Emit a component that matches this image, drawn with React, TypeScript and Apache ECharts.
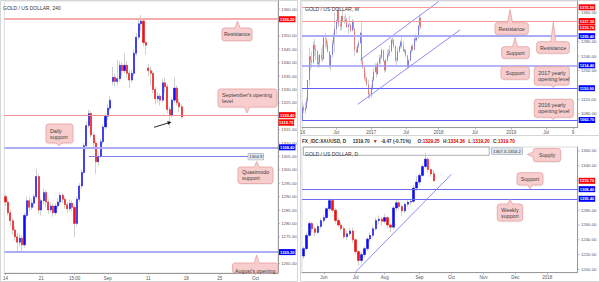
import React, { useEffect, useRef } from 'react';
import * as echarts from 'echarts';

const FONT = '"Liberation Sans", Arial, Helvetica, sans-serif';

// ---------- Left panel: GOLD / US DOLLAR, 240  ([open, close, low, high]) ----------
const h4Candles: number[][] = [
  [1290, 1288, 1286.5, 1291], [1288, 1284, 1283, 1289], [1284, 1281, 1279, 1285],
  [1281, 1277.5, 1276, 1282], [1277.5, 1275, 1273.5, 1279], [1275, 1273, 1269, 1276.5],
  [1273, 1274.5, 1271.5, 1276], [1274.5, 1272, 1269.5, 1275.5], [1272, 1283, 1271, 1284],
  [1283, 1288.5, 1282, 1290], [1288.5, 1286, 1284.5, 1290], [1286, 1287.5, 1285, 1289],
  [1287.5, 1290, 1286, 1291], [1290, 1297.5, 1289, 1300.5], [1297.5, 1285, 1283.5, 1298.5],
  [1285, 1288.5, 1283, 1289.5], [1288.5, 1291.5, 1287, 1293], [1291.5, 1288, 1286, 1292.5],
  [1288, 1285, 1283.5, 1289], [1285, 1286.5, 1284, 1288], [1286.5, 1284, 1282.5, 1287.5],
  [1284, 1286.5, 1283, 1287.5], [1286.5, 1288, 1285.5, 1289.5], [1288, 1290.5, 1287, 1291.5],
  [1290.5, 1289, 1287.5, 1291.5], [1289, 1287, 1285.5, 1290], [1287, 1285.5, 1284, 1288],
  [1285.5, 1287.5, 1284.5, 1289], [1287.5, 1286, 1284.5, 1288.5], [1286, 1280, 1275, 1287],
  [1280, 1289, 1279, 1290], [1289, 1294, 1288, 1295], [1294, 1299, 1293, 1300],
  [1299, 1309, 1298.5, 1310], [1309, 1316.5, 1308, 1318], [1316.5, 1321, 1315.5, 1322.5],
  [1321, 1313, 1312, 1322], [1313, 1310, 1307.5, 1314], [1310, 1303, 1298.5, 1311],
  [1303, 1305, 1301.5, 1306.5], [1305, 1310.5, 1304.5, 1311.5], [1310.5, 1316, 1309.5, 1317],
  [1316, 1320, 1315, 1321], [1320, 1323, 1318.5, 1324.5], [1323, 1326, 1322, 1327.5],
  [1333, 1334.5, 1331.5, 1338.5], [1334.5, 1333, 1331, 1336], [1333, 1334, 1331.5, 1341],
  [1334, 1339, 1333, 1340.5], [1339, 1337, 1335, 1340], [1337, 1339, 1336, 1343.5],
  [1339, 1336, 1334.5, 1340.5], [1336, 1333.5, 1330.5, 1337], [1333.5, 1336, 1332.5, 1337.5],
  [1336, 1343.5, 1335, 1345], [1343.5, 1349.5, 1342.5, 1351], [1349.5, 1354.5, 1348.5, 1356],
  [1354.5, 1355.5, 1352, 1357.8], [1355.5, 1347.5, 1346, 1356.5], [1347.5, 1346.5, 1343, 1348],
  [1338, 1337, 1335, 1339.5], [1337, 1336, 1331.5, 1338.5], [1336, 1330, 1328.5, 1337],
  [1330, 1326.5, 1324.5, 1331], [1326.5, 1327.5, 1325, 1329], [1327.5, 1326, 1324, 1328.5],
  [1326, 1332.5, 1325, 1334], [1332.5, 1331, 1329, 1334.5], [1331, 1322.5, 1321, 1332],
  [1322.5, 1320.5, 1315.5, 1323.5], [1320.5, 1326, 1319.5, 1327], [1326, 1330.5, 1325, 1334.5],
  [1330.5, 1325, 1324, 1331.5], [1325, 1323.5, 1321.5, 1326.5], [1323.5, 1319.7, 1319.2, 1324.5],
];
const h4SlotCount = 115;
const h4AxisLabels: [number, string][] = [[0, '14'], [15, '21'], [29, '15:00'], [43, 'Sep'], [60, '11'], [76, '18'], [90, '25'], [105, 'Oct']];
const h4PriceTicks = [1265, 1275, 1280, 1285, 1290, 1295, 1300, 1305, 1310, 1315, 1325, 1330, 1335, 1340, 1345, 1350, 1360];
const h4Range = [1261.5, 1363.0];
const h4Resistance = 1356.2;
const h4SeptemberOpen = 1320.4;
const h4DailySupport = 1308.4;
const h4AugustOpen = 1269.3;
const h4Quasimodo = { value: 1304.9, from: 35, to: 102 };

// ---------- Top right: GOLD / US DOLLAR, W ----------
const weeklyCandles: number[][] = [
  [1062.7, 1097.8, 1060, 1111], [1097.8, 1088.8, 1082, 1105], [1088.8, 1096.4, 1080, 1111], [1096.4, 1116.4, 1093, 1127],
  [1116.4, 1173.9, 1111, 1174], [1173.9, 1239.4, 1156, 1263], [1239.4, 1226.8, 1200, 1240], [1226.8, 1222.7, 1208, 1253],
  [1222.7, 1270.6, 1218, 1280], [1270.6, 1259.4, 1240, 1287], [1259.4, 1254.3, 1229, 1272], [1254.3, 1218.0, 1213, 1256],
  [1218.0, 1221.4, 1207, 1243], [1221.4, 1243.3, 1212, 1247], [1243.3, 1234.7, 1226, 1262], [1234.7, 1231.7, 1224, 1271],
  [1231.7, 1290.6, 1229, 1297], [1290.6, 1289.6, 1265, 1303.8], [1289.6, 1272.9, 1260, 1285], [1272.9, 1252.9, 1250, 1282],
  [1252.9, 1213.8, 1208, 1254], [1213.8, 1243.3, 1199.5, 1244], [1243.3, 1275.5, 1236, 1285], [1275.5, 1297.7, 1270, 1305],
  [1297.7, 1315.5, 1250, 1362], [1315.5, 1339.6, 1301, 1341], [1339.6, 1366.0, 1331, 1372], [1366.0, 1327.0, 1320, 1375.5],
  [1327.0, 1323.0, 1310, 1340], [1323.0, 1350.9, 1312, 1352], [1350.9, 1335.6, 1334, 1367], [1335.6, 1335.0, 1330, 1352],
  [1335.0, 1341.0, 1334, 1358], [1341.0, 1320.5, 1318, 1347], [1320.5, 1326.8, 1302, 1331], [1326.8, 1327.0, 1323, 1352],
  [1327.0, 1310.4, 1306, 1330], [1310.4, 1337.0, 1309, 1343], [1337.0, 1316.0, 1314, 1340], [1316.0, 1257.0, 1241, 1318],
  [1257.0, 1251.3, 1248, 1266], [1251.3, 1266.6, 1248, 1274], [1266.6, 1276.1, 1262, 1284], [1276.1, 1304.5, 1274, 1308],
  [1304.5, 1225.0, 1219, 1337], [1225.0, 1208.6, 1205, 1236], [1208.6, 1178.5, 1172, 1215], [1178.5, 1177.8, 1168, 1194],
  [1177.8, 1161.2, 1156, 1183], [1161.2, 1133.6, 1122, 1174], [1133.6, 1132.4, 1122, 1140], [1132.4, 1151.7, 1124, 1160],
  [1151.7, 1172.8, 1146, 1182], [1172.8, 1196.5, 1170, 1207], [1196.5, 1209.8, 1194, 1220], [1209.8, 1190.4, 1180, 1219],
  [1190.4, 1220.3, 1187, 1226], [1220.3, 1234.1, 1216, 1244], [1234.1, 1237.0, 1218, 1244], [1237.0, 1257.0, 1231, 1264],
  [1257.0, 1226.4, 1224, 1258], [1226.4, 1201.0, 1194, 1229], [1201.0, 1229.1, 1196, 1233], [1229.1, 1243.3, 1224, 1259],
  [1243.3, 1248.6, 1237, 1260], [1248.6, 1254.2, 1240, 1270], [1254.2, 1285.5, 1250, 1289], [1285.5, 1283.9, 1274, 1295],
  [1283.9, 1268.2, 1262, 1288], [1268.2, 1227.6, 1225, 1269], [1227.6, 1227.8, 1214, 1237], [1227.8, 1253.6, 1225, 1264],
  [1253.6, 1266.8, 1249, 1270], [1266.8, 1279.2, 1260, 1284], [1279.2, 1266.6, 1263, 1296], [1266.6, 1253.3, 1252, 1281],
  [1253.3, 1256.2, 1247, 1260], [1256.2, 1241.9, 1237, 1259], [1241.9, 1209.4, 1205, 1243], [1209.4, 1227.8, 1206, 1232],
  [1227.8, 1254.6, 1226, 1257], [1254.6, 1268.6, 1248, 1270], [1268.6, 1257.8, 1254, 1274], [1257.8, 1288.7, 1256, 1291],
  [1288.7, 1284.4, 1280, 1301], [1284.4, 1291.2, 1280, 1295], [1291.2, 1325.2, 1290, 1326], [1325.2, 1346.5, 1311, 1357.5],
  [1346.5, 1319.7, 1315, 1349],
];
const weeklySlotCount = 205;
const weeklyAxisLabels: [number, string][] = [[0, '16'], [25, 'Jul'], [51, '2017'], [77, 'Jul'], [101, '2018'], [128, 'Jul'], [155, '2019'], [181, 'Jul'], [201, '9']];
const weeklyPriceTicks = [1080, 1120, 1200, 1240, 1280, 1360];
const weeklyRange = [1041.3, 1393.0];
const weeklyUpperChannel = [[43, 1230.3], [101, 1391.5]];
const weeklyLowerChannel = [[41, 1106.2], [117, 1312.8]];

// ---------- Bottom right: GOLD / US DOLLAR, D ----------
const dailyCandles: number[][] = [
  [1218, 1228, 1214, 1231], [1228, 1246, 1226, 1250], [1246, 1262, 1244, 1265], [1262, 1255, 1250, 1264],
  [1255, 1250, 1245, 1258], [1250, 1258, 1248, 1262], [1258, 1266, 1255, 1269], [1266, 1270, 1263, 1274],
  [1270, 1282, 1268, 1284], [1282, 1293, 1279, 1296], [1293, 1280, 1277, 1295], [1280, 1266, 1262, 1283],
  [1266, 1260, 1257, 1270], [1260, 1255, 1252, 1264], [1255, 1244, 1241, 1258], [1244, 1248, 1240, 1252],
  [1248, 1252, 1245, 1256], [1252, 1240, 1236, 1256], [1240, 1224, 1220, 1242], [1224, 1212, 1205, 1226],
  [1212, 1220, 1208, 1224], [1220, 1228, 1216, 1231], [1228, 1241, 1225, 1244], [1241, 1246, 1237, 1250],
  [1246, 1255, 1243, 1259], [1255, 1266, 1252, 1270], [1266, 1268, 1261, 1273], [1268, 1265, 1259, 1271],
  [1265, 1270, 1262, 1275], [1270, 1260, 1256, 1272], [1260, 1257, 1250, 1263], [1257, 1283, 1254, 1286],
  [1283, 1290, 1279, 1294], [1290, 1285, 1281, 1293], [1285, 1279, 1272, 1288], [1279, 1288, 1276, 1291],
  [1288, 1291, 1284, 1294], [1291, 1292, 1286, 1296], [1292, 1310, 1290, 1314], [1310, 1318, 1306, 1326],
  [1318, 1327, 1313, 1330], [1327, 1339, 1325, 1342], [1339, 1349, 1336, 1357.5], [1349, 1335, 1331, 1351],
  [1335, 1329, 1325, 1336], [1329.25, 1319.7, 1319.2, 1334.36],
];
const dailySlotCount = 95;
const dailyAxisLabels: [number, string][] = [[7, 'Jun'], [18, 'Jul'], [28, 'Aug'], [40, 'Sep'], [51, 'Oct'], [62, 'Nov'], [73, 'Dec'], [84, '2018']];
const dailyPriceTicks = [1200, 1220, 1240, 1260, 1280, 1340, 1360];
const dailyRange = [1195.5, 1365.4];
const dailyTrendline = [[18, 1196.7], [51, 1328.5]];
const dailySupplyZone = { low: 1354.2, high: 1365.4, toSlot: 64, text: '1367.3-1354.2' };

const UP = '#0a0aff';
const DOWN = '#ff0a0a';
const WICK = '#bcbcbc';
const RED_LABEL = '#ff0000';
const BLUE_LABEL = '#0000ff';

const cats = (n: number) => Array.from({ length: n }, (_, i) => String(i));

function xAxisFor(gi: number, count: number, labels: [number, string][]) {
  const map = new Map<number, string>(labels);
  return {
    type: 'category', gridIndex: gi, data: cats(count), boundaryGap: true,
    axisLine: { show: true, lineStyle: { color: '#9a9a9a', width: 1 } },
    axisTick: { show: true, length: 2, alignWithLabel: true, interval: (i: number) => map.has(i), lineStyle: { color: '#9a9a9a', width: 0.6 } },
    axisLabel: { interval: (i: number) => map.has(i), formatter: (_v: string, i: number) => map.get(i) ?? '', fontSize: 4.5, color: '#555', margin: 2.5, fontFamily: FONT },
    splitLine: { show: false },
  };
}

function yAxisFor(gi: number, range: number[]) {
  return {
    type: 'value', gridIndex: gi, position: 'right', min: range[0], max: range[1],
    axisLine: { show: true, lineStyle: { color: '#9a9a9a', width: 1 } },
    axisTick: { show: false }, axisLabel: { show: false }, splitLine: { show: false },
  };
}

function tickSeries(gi: number, values: number[]) {
  return {
    type: 'custom', xAxisIndex: gi, yAxisIndex: gi, data: values.map((v) => [0, v]), clip: false, silent: true, z: 1,
    renderItem: (params: any, api: any) => {
      const v = api.value(1);
      const p = api.coord([0, v]);
      const cs = params.coordSys;
      const xr = cs.x + cs.width;
      return {
        type: 'group',
        children: [
          { type: 'line', shape: { x1: xr, y1: p[1], x2: xr + 2, y2: p[1] }, style: { stroke: '#9a9a9a', lineWidth: 0.6 } },
          { type: 'text', style: { text: v.toFixed(2), x: xr + 3.2, y: p[1], align: 'left', verticalAlign: 'middle', fontSize: 4.3, fontFamily: FONT, fill: '#555' } },
        ],
      };
    },
  };
}

function lbl(bg: string, text: string, fg = '#fff', extra: any = {}) {
  return {
    show: true, position: 'end', formatter: text, backgroundColor: bg, color: fg, fontSize: 4, fontWeight: 'bold',
    fontFamily: FONT, padding: [1.2, 1, 0.8, 1], distance: 1, ...extra,
  };
}

function priceLine(value: number, color: string, width: number, bg: string) {
  return { yAxis: value, lineStyle: { color, width, type: 'solid' }, label: lbl(bg, value.toFixed(2)) };
}
function priceTag(value: number, bg: string) {
  return { yAxis: value, lineStyle: { color: 'rgba(0,0,0,0)', width: 0, type: 'solid' }, label: lbl(bg, value.toFixed(2)) };
}

function candleSeries(gi: number, data: number[][], barWidth: number, extra: any = {}) {
  const bodies = data.map(([o, c]) => [o, c, Math.min(o, c), Math.max(o, c)]);
  return [
    {
      type: 'candlestick', xAxisIndex: gi, yAxisIndex: gi, data, barWidth, silent: true, z: 2,
      itemStyle: { color: WICK, color0: WICK, borderColor: WICK, borderColor0: WICK, borderWidth: 0.7 },
    },
    {
      type: 'candlestick', xAxisIndex: gi, yAxisIndex: gi, data: bodies, barWidth, silent: true, z: 3,
      itemStyle: { color: UP, color0: DOWN, borderColor: UP, borderColor0: DOWN, borderWidth: 0.4 },
      ...extra,
    },
  ];
}

type Co = { x: number; y: number; w: number; h: number; text: string; dir?: 'up' | 'down' | 'left'; p?: number; tip?: number; align?: 'left' | 'center'; ty?: number };
const CO_FILL = '#f7cdcd';
const CO_STROKE = '#e6a2a2';
function callout(c: Co) {
  const kids: any[] = [
    { type: 'rect', z: 100, shape: { x: c.x, y: c.y, width: c.w, height: c.h, r: 2.5 }, style: { fill: CO_FILL, stroke: CO_STROKE, lineWidth: 0.8, shadowBlur: 1.5, shadowColor: 'rgba(0,0,0,0.12)', shadowOffsetY: 0.5 } },
  ];
  if (c.dir) {
    const hw = 2.6, p = c.p as number, t = c.tip as number;
    let edge: number[][], fillPts: number[][];
    if (c.dir === 'up') { edge = [[p - hw, c.y], [p, t], [p + hw, c.y]]; fillPts = [[p - hw, c.y + 0.9], [p, t], [p + hw, c.y + 0.9]]; }
    else if (c.dir === 'down') { const b = c.y + c.h; edge = [[p - hw, b], [p, t], [p + hw, b]]; fillPts = [[p - hw, b - 0.9], [p, t], [p + hw, b - 0.9]]; }
    else { edge = [[c.x, p - hw], [t, p], [c.x, p + hw]]; fillPts = [[c.x + 0.9, p - hw], [t, p], [c.x + 0.9, p + hw]]; }
    kids.push({ type: 'polygon', z: 101, shape: { points: fillPts }, style: { fill: CO_FILL } });
    kids.push({ type: 'polyline', z: 101, shape: { points: edge }, style: { stroke: CO_STROKE, lineWidth: 0.8, fill: null } });
  }
  const left = c.align === 'left';
  kids.push({
    type: 'text', z: 102,
    style: { text: c.text, x: left ? c.x + 4 : c.x + c.w / 2, y: c.ty ?? c.y + c.h / 2, align: left ? 'left' : 'center', verticalAlign: 'middle', fontSize: 5.3, lineHeight: 6, fontFamily: FONT, fill: '#3d3d3d' },
  });
  return { type: 'group', children: kids };
}

const callouts: Co[] = [
  { x: 222, y: 28, w: 30, h: 12.7, text: 'Resistance', dir: 'up', p: 237.5, tip: 21 },
  { x: 218, y: 89, w: 59, h: 18, text: "September's opening\nlevel", dir: 'down', p: 247, tip: 113, align: 'left' },
  { x: 46, y: 124, w: 27, h: 19, text: 'Daily\nsupport', dir: 'down', p: 59, tip: 146, align: 'left' },
  { x: 238, y: 167, w: 35, h: 16.5, text: 'Quasimodo\nsupport', dir: 'up', p: 256.7, tip: 161.5, align: 'left' },
  { x: 232.5, y: 263, w: 45.5, h: 10, text: "August's opening", dir: 'up', p: 256.7, tip: 255, ty: 270.5 },
  { x: 495, y: 22.7, w: 33.3, h: 11.6, text: 'Resistance', dir: 'up', p: 510, tip: 9.5 },
  { x: 501.7, y: 46.7, w: 27.6, h: 11.6, text: 'Support', dir: 'up', p: 515, tip: 37.5 },
  { x: 536.7, y: 41.7, w: 32.6, h: 11.6, text: 'Resistance', dir: 'up', p: 553.3, tip: 22 },
  { x: 501, y: 66.7, w: 28.3, h: 12.6, text: 'Support' },
  { x: 534.3, y: 66.7, w: 35, h: 18.3, text: '2017 yearly\nopening level', dir: 'down', p: 553.3, tip: 87.5, align: 'left' },
  { x: 534.3, y: 99.3, w: 39, h: 18, text: '2016 yearly\nopening level', dir: 'down', p: 553.3, tip: 119.5, align: 'left' },
  { x: 533.3, y: 148.5, w: 27.4, h: 13, text: 'Supply', dir: 'left', p: 154.5, tip: 527.3 },
  { x: 517, y: 172.7, w: 26, h: 12.3, text: 'Support', dir: 'down', p: 530, tip: 188.7 },
  { x: 497.3, y: 204, w: 25.3, h: 17, text: 'Weekly\nsupport', dir: 'up', p: 510, tip: 199.5 },
];

function title(x: number, y: number, text: string) {
  return { type: 'text', z: 100, style: { text, x, y, verticalAlign: 'middle', fontSize: 5, fontFamily: FONT, fill: '#333' } };
}

function buildOption() {
  const graphics: any[] = [
    { type: 'rect', z: 0, shape: { x: 0.5, y: 0.5, width: 297, height: 281 }, style: { fill: null, stroke: '#d6d6d6', lineWidth: 1 } },
    { type: 'rect', z: 0, shape: { x: 300.5, y: 0.5, width: 299, height: 135 }, style: { fill: null, stroke: '#d6d6d6', lineWidth: 1 } },
    { type: 'rect', z: 0, shape: { x: 300.5, y: 135.5, width: 299, height: 146 }, style: { fill: null, stroke: '#d6d6d6', lineWidth: 1 } },
    title(3, 8, 'GOLD / US DOLLAR, 240'),
    title(305, 8.5, 'GOLD / US DOLLAR, W'),
    title(305, 154, 'GOLD / US DOLLAR, D'),
    {
      type: 'text', z: 100,
      style: {
        x: 302, y: 141, verticalAlign: 'middle',
        text: '{b|FX_IDC:XAUUSD, D}  {b|1319.70} {r|▼} {b|-9.47 (-0.71%)}  {b|O:}{r|1329.25} {b|H:}{r|1334.36} {b|L:}{r|1319.20} {b|C:}{r|1319.70}',
        rich: {
          b: { fontSize: 4.7, fontWeight: 'bold', fontFamily: FONT, fill: '#333' },
          r: { fontSize: 4.7, fontWeight: 'bold', fontFamily: FONT, fill: '#d40000' },
        },
      },
    },
    ...callouts.map(callout),
    { type: 'line', z: 100, shape: { x1: 154, y1: 127.3, x2: 168.5, y2: 122.9 }, style: { stroke: '#111', lineWidth: 0.9 } },
    { type: 'polygon', z: 100, shape: { points: [[171.5, 121.9], [167.2, 121.2], [168.2, 124.7]] }, style: { fill: '#111' } },
    {
      type: 'group', children: [
        { type: 'rect', z: 100, shape: { x: 278.5, y: 119.3, width: 15.6, height: 6.4 }, style: { fill: RED_LABEL } },
        { type: 'text', z: 101, style: { text: '1319.70', x: 286.3, y: 122.6, align: 'center', verticalAlign: 'middle', fontSize: 4, fontWeight: 'bold', fontFamily: FONT, fill: '#fff' } },
      ],
    },
  ];

  const h4MarkLine = {
    symbol: ['none', 'none'], silent: true,
    data: [
      priceLine(h4Resistance, '#f6acac', 2, RED_LABEL),
      priceLine(h4SeptemberOpen, '#f08f8f', 1, RED_LABEL),
      priceLine(h4DailySupport, '#acacf6', 2, BLUE_LABEL),
      priceLine(h4AugustOpen, '#acacf6', 2, BLUE_LABEL),
      [
        { coord: [h4Quasimodo.from, h4Quasimodo.value], lineStyle: { color: '#7d7df0', width: 1, type: 'solid' },
          label: lbl('#dfe6ee', String(h4Quasimodo.value), '#333', { fontWeight: 'normal', fontSize: 4.3, borderColor: '#8e9aa6', borderWidth: 0.5, distance: 0 }) },
        { coord: [h4Quasimodo.to, h4Quasimodo.value] },
      ],
    ],
  };

  const weeklyMarkLine = {
    symbol: ['none', 'none'], silent: true,
    data: [
      priceLine(1375.5, '#f29c9c', 1, RED_LABEL),
      priceLine(1337.3, '#f29c9c', 1, RED_LABEL),
      priceTag(1319.7, RED_LABEL),
      priceLine(1295.4, '#acacf6', 2, BLUE_LABEL),
      priceLine(1214.4, '#9c9cf4', 1.5, BLUE_LABEL),
      priceLine(1150.9, '#6262f0', 1, BLUE_LABEL),
      priceLine(1062.7, '#6262f0', 1, BLUE_LABEL),
    ],
  };

  const dailyMarkLine = {
    symbol: ['none', 'none'], silent: true,
    data: [
      priceTag(1319.7, RED_LABEL),
      priceLine(1308.4, '#6c6cf0', 1, BLUE_LABEL),
      priceLine(1295.4, '#6c6cf0', 1, BLUE_LABEL),
    ],
  };

  const dailyMarkArea = {
    silent: true,
    itemStyle: { color: 'rgba(0,0,0,0)', borderColor: '#9c9c9c', borderWidth: 0.8 },
    label: {
      show: true, position: 'right', formatter: dailySupplyZone.text, backgroundColor: '#dfe6ee', borderColor: '#8e9aa6', borderWidth: 0.5,
      padding: [1, 1.5], fontSize: 4.3, color: '#333', fontFamily: FONT, distance: 2,
    },
    data: [[{ coord: [0, dailySupplyZone.low] }, { coord: [dailySupplyZone.toSlot, dailySupplyZone.high] }]],
  };

  const trend = (gi: number, data: number[][]) => ({
    type: 'line', xAxisIndex: gi, yAxisIndex: gi, data, symbol: 'none', silent: true, z: 4,
    lineStyle: { color: '#6f6ff2', width: 0.8 },
  });

  return {
    animation: false,
    textStyle: { fontFamily: FONT },
    grid: [
      { left: 1.5, top: 1, width: 276.5, height: 272, show: true, borderColor: '#d4d4d4', borderWidth: 0.8 },
      { left: 302, top: 1, width: 275.7, height: 126.7, show: true, borderColor: '#d4d4d4', borderWidth: 0.8 },
      { left: 302, top: 147, width: 275.7, height: 125.7, show: true, borderColor: '#d4d4d4', borderWidth: 0.8 },
    ],
    xAxis: [
      xAxisFor(0, h4SlotCount, h4AxisLabels),
      xAxisFor(1, weeklySlotCount, weeklyAxisLabels),
      xAxisFor(2, dailySlotCount, dailyAxisLabels),
    ],
    yAxis: [yAxisFor(0, h4Range), yAxisFor(1, weeklyRange), yAxisFor(2, dailyRange)],
    series: [
      tickSeries(0, h4PriceTicks),
      tickSeries(1, weeklyPriceTicks),
      tickSeries(2, dailyPriceTicks),
      ...candleSeries(0, h4Candles, 1.6, { markLine: h4MarkLine }),
      ...candleSeries(1, weeklyCandles, 1.1, { markLine: weeklyMarkLine }),
      ...candleSeries(2, dailyCandles, 2, { markLine: dailyMarkLine, markArea: dailyMarkArea }),
      trend(1, weeklyUpperChannel),
      trend(1, weeklyLowerChannel),
      trend(2, dailyTrendline),
    ],
    graphic: graphics,
  };
}

export default function App() {
  const ref = useRef<HTMLDivElement>(null);
  useEffect(() => {
    document.body.style.margin = '0';
    const chart = echarts.init(ref.current as HTMLDivElement, null, { renderer: 'svg' });
    chart.setOption(buildOption() as any);
    return () => chart.dispose();
  }, []);
  return <div ref={ref} style={{ width: 600, height: 282, background: '#fff' }} />;
}
